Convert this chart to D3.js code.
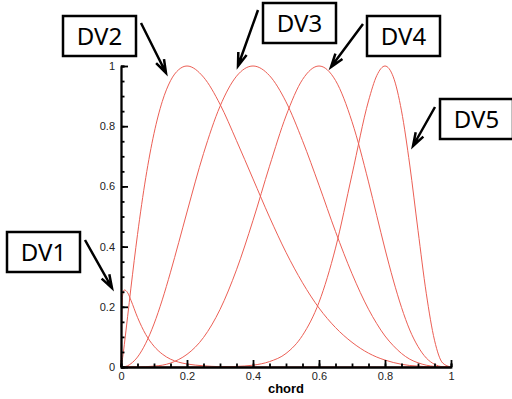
<!DOCTYPE html>
<html>
<head>
<meta charset="utf-8">
<script src="https://cdn.jsdelivr.net/npm/d3@7"></script>
<style>
    body { margin: 0; background: #fff; }
</style>
</head>
<body>
<div id="main"></div>
<script>
const chord = [0, 0.005, 0.01, 0.02, 0.03, 0.05, 0.075, 0.1, 0.125, 0.15, 0.175, 0.2, 0.25, 0.3, 0.35, 0.4,
    0.45, 0.5, 0.55, 0.6, 0.65, 0.7, 0.75, 0.775, 0.8, 0.825, 0.85, 0.875, 0.9, 0.925, 0.95, 0.975, 1];

const dv1 = [0, 0.239, 0.256, 0.247, 0.222, 0.165, 0.108, 0.069, 0.043, 0.026, 0.016, 0.010, 0.004, 0.001,
    0, 0, 0, 0, 0, 0, 0, 0, 0, 0, 0, 0, 0, 0, 0, 0, 0, 0, 0];
const dv2 = [0, 0.031, 0.074, 0.167, 0.262, 0.440, 0.629, 0.776, 0.882, 0.951, 0.988, 1.0, 0.963, 0.873, 0.752, 0.625,
    0.498, 0.381, 0.280, 0.196, 0.131, 0.082, 0.046, 0.033, 0.023, 0.015, 0.009, 0.005, 0.003, 0.001, 0, 0, 0];
const dv3 = [0, 0, 0.001, 0.004, 0.011, 0.033, 0.079, 0.143, 0.223, 0.315, 0.414, 0.515, 0.709, 0.866, 0.966, 1.0,
    0.968, 0.881, 0.752, 0.604, 0.450, 0.310, 0.192, 0.144, 0.103, 0.071, 0.045, 0.026, 0.014, 0.006, 0.002, 0, 0];
const dv4 = [0, 0, 0, 0, 0, 0, 0.001, 0.003, 0.006, 0.013, 0.025, 0.042, 0.098, 0.191, 0.323, 0.487,
    0.667, 0.834, 0.955, 1.0, 0.952, 0.815, 0.615, 0.503, 0.392, 0.289, 0.198, 0.123, 0.068, 0.030, 0.009, 0.001, 0];
const dv5 = [0, 0, 0, 0, 0, 0, 0, 0, 0, 0, 0, 0, 0, 0, 0.002, 0.006,
    0.018, 0.045, 0.105, 0.215, 0.395, 0.639, 0.884, 0.968, 1.0, 0.964, 0.851, 0.671, 0.454, 0.245, 0.089, 0.013, 0];

const seriesNames = ['DV1', 'DV2', 'DV3', 'DV4', 'DV5'];
const seriesValues = [dv1, dv2, dv3, dv4, dv5];
const xTicks = [0, 0.2, 0.4, 0.6, 0.8, 1];
const yTicks = [0, 0.2, 0.4, 0.6, 0.8, 1];
const minorTicks = d3.range(0, 1.0001, 0.05);

// label boxes and arrows, in page pixels: [box x, box y, arrow from, arrow to]
const callouts = [
    { box: [7, 232], from: [85, 240], to: [112, 288] },
    { box: [63, 16], from: [141, 23], to: [166, 73] },
    { box: [263, 3], from: [258, 10], to: [238, 66] },
    { box: [367, 16], from: [363, 24], to: [331, 67] },
    { box: [440, 99], from: [435, 107], to: [413, 146] }
];

const width = 512, height = 399;
const margin = {
    top: 66,
    bottom: 32,
    left: 121,
    right: 61
};
const markWidth = width - margin.left - margin.right;
const markHeight = height - margin.top - margin.bottom;

const svg = d3.select('#main').append('svg').attr('width', width).attr('height', height);

const xScale = d3.scaleLinear().domain([0, 1]).range([0, markWidth]);
const yScale = d3.scaleLinear().domain([0, 1]).range([markHeight, 0]);

function drawCurves() {
    const g = svg.append('g')
        .attr('transform', `translate(${margin.left},${margin.top})`);

    const line = d3.line()
        .x((d, i) => xScale(chord[i]))
        .y(d => yScale(d))
        .curve(d3.curveMonotoneX);

    g.selectAll('.dv')
        .data(seriesValues)
        .enter()
            .append('path')
                .attr('class', 'dv')
                .attr('d', line)
                .style('fill', 'none')
                .style('stroke', '#ec5f55')
                .style('stroke-width', 1);
}

function drawAxes() {
    const font = '"Liberation Sans", Arial, sans-serif';

    // minor ticks
    svg.append('g')
        .attr('transform', `translate(${margin.left},${margin.top})`)
        .call(d3.axisLeft(yScale).tickValues(minorTicks).tickSize(-3.5).tickFormat(''));
    svg.append('g')
        .attr('transform', `translate(${margin.left},${margin.top + markHeight})`)
        .call(d3.axisBottom(xScale).tickValues(minorTicks).tickSize(-3.5).tickFormat(''));

    const yAxis = svg.append('g')
        .attr('transform', `translate(${margin.left},${margin.top})`)
        .call(d3.axisLeft(yScale).tickValues(yTicks).tickSize(-7).tickSizeOuter(0).tickPadding(6).tickFormat(d3.format('~g')));

    const xAxis = svg.append('g')
        .attr('transform', `translate(${margin.left},${margin.top + markHeight})`)
        .call(d3.axisBottom(xScale).tickValues(xTicks).tickSize(-7).tickSizeOuter(0).tickPadding(5).tickFormat(d3.format('~g')));

    svg.selectAll('.domain, .tick line')
        .style('stroke', '#000')
        .style('stroke-width', 1.8);
    svg.selectAll('.tick text')
        .style('font-family', font)
        .style('font-size', '11px')
        .style('fill', '#222');

    svg.append('text')
        .attr('x', margin.left + markWidth / 2)
        .attr('y', height - 6)
        .style('font-family', font)
        .style('font-size', '13px')
        .style('font-weight', 'bold')
        .style('text-anchor', 'middle')
        .text('chord');
}

function drawCallouts() {
    const g = svg.append('g');

    callouts.forEach((c, i) => {
        g.append('rect')
            .attr('x', c.box[0])
            .attr('y', c.box[1])
            .attr('width', 73)
            .attr('height', 40)
            .style('fill', '#fff')
            .style('stroke', '#000')
            .style('stroke-width', 2.5);

        g.append('text')
            .attr('x', c.box[0] + 36.5)
            .attr('y', c.box[1] + 29)
            .style('font-family', '"Noto Sans", sans-serif')
            .style('font-size', '24px')
            .style('text-anchor', 'middle')
            .text(seriesNames[i]);

        const dx = c.to[0] - c.from[0], dy = c.to[1] - c.from[1];
        const len = Math.sqrt(dx * dx + dy * dy);
        const ux = dx / len, uy = dy / len;
        const head = 14, spread = 0.32;
        const left = [c.to[0] - head * (ux * Math.cos(spread) - uy * Math.sin(spread)),
                      c.to[1] - head * (uy * Math.cos(spread) + ux * Math.sin(spread))];
        const right = [c.to[0] - head * (ux * Math.cos(spread) + uy * Math.sin(spread)),
                       c.to[1] - head * (uy * Math.cos(spread) - ux * Math.sin(spread))];

        g.append('path')
            .attr('d', `M${c.from}L${c.to}M${left}L${c.to}L${right}`)
            .style('fill', 'none')
            .style('stroke', '#000')
            .style('stroke-width', 2.5);
    });
}

drawCurves();
drawAxes();
drawCallouts();
</script>
</body>
</html>
